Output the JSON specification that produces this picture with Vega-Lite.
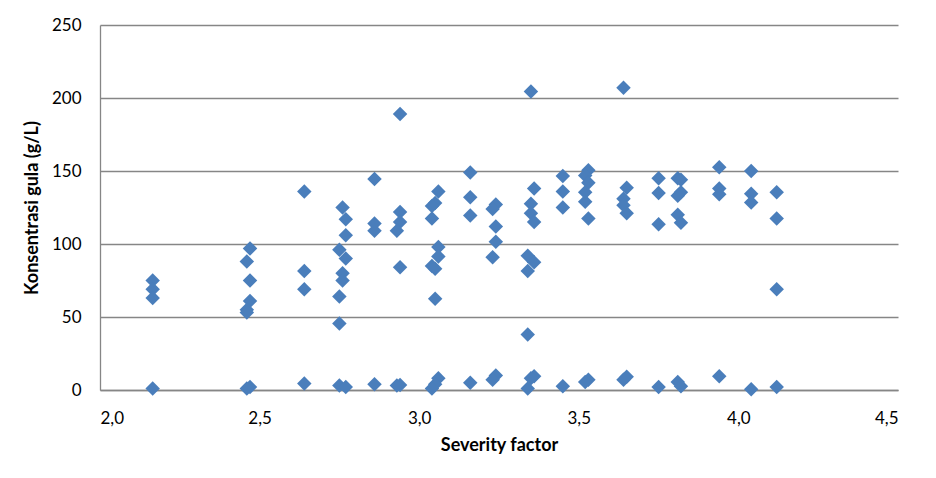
{
  "$schema": "https://vega.github.io/schema/vega-lite/v6.json",
  "width": 798,
  "height": 365,
  "autosize": {"type": "none"},
  "padding": {"left": 100, "top": 25, "right": 38, "bottom": 88},
  "background": "white",
  "config": {"view": {"stroke": null}, "font": "Lato"},
  "data": {"values": [
    {"sf": 2.165, "gula": 75}, {"sf": 2.165, "gula": 69}, {"sf": 2.165, "gula": 63}, {"sf": 2.165, "gula": 1},
    {"sf": 2.47, "gula": 97}, {"sf": 2.46, "gula": 88}, {"sf": 2.47, "gula": 75}, {"sf": 2.47, "gula": 61}, {"sf": 2.46, "gula": 55}, {"sf": 2.46, "gula": 53}, {"sf": 2.47, "gula": 2}, {"sf": 2.46, "gula": 1},
    {"sf": 2.64, "gula": 136}, {"sf": 2.64, "gula": 81.5}, {"sf": 2.64, "gula": 69}, {"sf": 2.64, "gula": 4.5},
    {"sf": 2.76, "gula": 125}, {"sf": 2.77, "gula": 117}, {"sf": 2.77, "gula": 106}, {"sf": 2.75, "gula": 96}, {"sf": 2.77, "gula": 90}, {"sf": 2.76, "gula": 80}, {"sf": 2.76, "gula": 75}, {"sf": 2.75, "gula": 64}, {"sf": 2.75, "gula": 45.5}, {"sf": 2.75, "gula": 3}, {"sf": 2.77, "gula": 2},
    {"sf": 2.86, "gula": 144.5}, {"sf": 2.86, "gula": 114}, {"sf": 2.86, "gula": 109}, {"sf": 2.86, "gula": 4},
    {"sf": 2.94, "gula": 189}, {"sf": 2.94, "gula": 122}, {"sf": 2.94, "gula": 115}, {"sf": 2.93, "gula": 109}, {"sf": 2.94, "gula": 84}, {"sf": 2.94, "gula": 3.5}, {"sf": 2.93, "gula": 3},
    {"sf": 3.06, "gula": 136}, {"sf": 3.05, "gula": 128}, {"sf": 3.04, "gula": 126}, {"sf": 3.04, "gula": 117.5}, {"sf": 3.06, "gula": 98}, {"sf": 3.06, "gula": 91.5}, {"sf": 3.04, "gula": 85}, {"sf": 3.05, "gula": 83}, {"sf": 3.05, "gula": 62.5}, {"sf": 3.06, "gula": 8}, {"sf": 3.05, "gula": 4}, {"sf": 3.04, "gula": 1},
    {"sf": 3.16, "gula": 149}, {"sf": 3.16, "gula": 132}, {"sf": 3.16, "gula": 119.5}, {"sf": 3.16, "gula": 5},
    {"sf": 3.24, "gula": 127}, {"sf": 3.23, "gula": 124}, {"sf": 3.24, "gula": 112}, {"sf": 3.24, "gula": 101.5}, {"sf": 3.23, "gula": 91}, {"sf": 3.24, "gula": 10}, {"sf": 3.23, "gula": 7},
    {"sf": 3.35, "gula": 204.5}, {"sf": 3.36, "gula": 138}, {"sf": 3.35, "gula": 127.5}, {"sf": 3.35, "gula": 121}, {"sf": 3.36, "gula": 115}, {"sf": 3.34, "gula": 92}, {"sf": 3.36, "gula": 87.5}, {"sf": 3.34, "gula": 81.5}, {"sf": 3.34, "gula": 38}, {"sf": 3.36, "gula": 9.5}, {"sf": 3.35, "gula": 8}, {"sf": 3.34, "gula": 1},
    {"sf": 3.45, "gula": 146.5}, {"sf": 3.45, "gula": 136}, {"sf": 3.45, "gula": 125}, {"sf": 3.45, "gula": 2.5},
    {"sf": 3.53, "gula": 150.5}, {"sf": 3.52, "gula": 147}, {"sf": 3.53, "gula": 142}, {"sf": 3.52, "gula": 135.5}, {"sf": 3.52, "gula": 129}, {"sf": 3.53, "gula": 117.5}, {"sf": 3.53, "gula": 7}, {"sf": 3.52, "gula": 5.5},
    {"sf": 3.64, "gula": 207}, {"sf": 3.65, "gula": 138.5}, {"sf": 3.64, "gula": 131}, {"sf": 3.64, "gula": 126.5}, {"sf": 3.65, "gula": 121}, {"sf": 3.65, "gula": 9}, {"sf": 3.64, "gula": 7},
    {"sf": 3.75, "gula": 145}, {"sf": 3.75, "gula": 135}, {"sf": 3.75, "gula": 113.5}, {"sf": 3.75, "gula": 2},
    {"sf": 3.81, "gula": 145}, {"sf": 3.82, "gula": 144}, {"sf": 3.82, "gula": 135.5}, {"sf": 3.81, "gula": 133}, {"sf": 3.81, "gula": 120}, {"sf": 3.82, "gula": 114.5}, {"sf": 3.81, "gula": 5.5}, {"sf": 3.82, "gula": 2.5},
    {"sf": 3.94, "gula": 152.5}, {"sf": 3.94, "gula": 138}, {"sf": 3.94, "gula": 134}, {"sf": 3.94, "gula": 9.5},
    {"sf": 4.04, "gula": 150}, {"sf": 4.04, "gula": 134.5}, {"sf": 4.04, "gula": 128.5}, {"sf": 4.04, "gula": 0.5},
    {"sf": 4.12, "gula": 135.5}, {"sf": 4.12, "gula": 117.5}, {"sf": 4.12, "gula": 69}, {"sf": 4.12, "gula": 2}
  ]},
  "mark": {"type": "point", "shape": "diamond", "filled": true, "size": 210, "color": "#4A7EBB", "opacity": 1},
  "encoding": {
    "x": {
      "field": "sf", "type": "quantitative",
      "scale": {"domain": [2, 4.5], "nice": false, "zero": false},
      "axis": {
        "title": "Severity factor", "values": [2, 2.5, 3, 3.5, 4, 4.5],
        "labelExpr": "replace(format(datum.value, '.1f'), '.', ',')",
        "grid": false, "ticks": false, "domainColor": "#868686", "domainWidth": 1.3,
        "labelFontSize": 17, "labelColor": "#000000", "labelPadding": 20, "labelFont": "Lato",
        "titleFontSize": 18, "titleFontWeight": "bold", "titleColor": "#000000", "titlePadding": 10, "titleFont": "Lato"
      }
    },
    "y": {
      "field": "gula", "type": "quantitative",
      "scale": {"domain": [0, 250], "nice": false},
      "axis": {
        "title": "Konsentrasi gula (g/L)", "values": [0, 50, 100, 150, 200, 250],
        "grid": true, "gridColor": "#868686", "gridWidth": 1.3, "ticks": false, "domainColor": "#868686", "domainWidth": 1.3,
        "labelFontSize": 17, "labelColor": "#000000", "labelPadding": 19, "labelFont": "Lato",
        "titleFontSize": 18, "titleFontWeight": "bold", "titleColor": "#000000", "titlePadding": 10, "titleFont": "Lato"
      }
    }
  }
}
